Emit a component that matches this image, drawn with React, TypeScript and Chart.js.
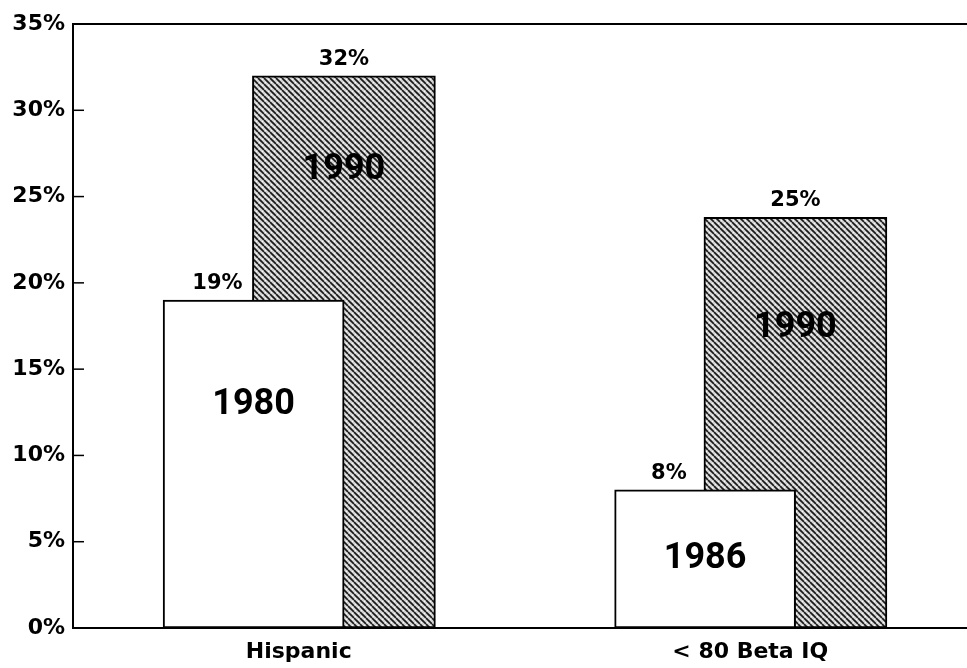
import React, { useEffect, useRef } from "react";
import { Chart, registerables } from "chart.js";

Chart.register(...registerables);

// ---- data ----
const categories = ["Hispanic", "< 80 Beta IQ"];
const earlyYears = ["1980", "1986"];
const earlyValues = [19, 8];
const earlyLabels = ["19%", "8%"];
const lateYears = ["1990", "1990"];
const lateValues = [32, 23.8];
const lateLabels = ["32%", "25%"];
const yMin = 0;
const yMax = 35;
const yStep = 5;

const YEARFONT = "Roboto, 'Liberation Sans', sans-serif";
const WIDE = "'DejaVu Sans', Verdana, sans-serif";

function makeHatch(): CanvasPattern | string {
  const s = 6;
  const c = document.createElement("canvas");
  c.width = s;
  c.height = s;
  const g = c.getContext("2d");
  if (!g) return "#777";
  g.fillStyle = "#d6d6d6";
  g.fillRect(0, 0, s, s);
  g.fillStyle = "#f8f8f8";
  g.fillRect(4, 1, 1, 1);
  g.fillRect(1, 4, 1, 1);
  g.strokeStyle = "#1a1a1a";
  g.lineWidth = 1.7;
  for (let k = -1; k <= 1; k++) {
    g.beginPath();
    g.moveTo(k * s, 0);
    g.lineTo(k * s + s, s);
    g.stroke();
  }
  const p = g.createPattern(c, "repeat");
  return p || "#777";
}

const framePlugin = {
  id: "frame",
  afterDraw(chart: any) {
    const { ctx, chartArea } = chart;
    const y = chart.scales.y;
    ctx.save();
    ctx.strokeStyle = "#000";
    ctx.lineWidth = 2;
    ctx.beginPath();
    ctx.moveTo(chartArea.left, chartArea.top);
    ctx.lineTo(chartArea.right, chartArea.top);
    ctx.stroke();
    ctx.lineWidth = 1.5;
    y.ticks.forEach((t: any) => {
      if (t.value === yMin || t.value === yMax) return;
      const py = y.getPixelForValue(t.value);
      ctx.beginPath();
      ctx.moveTo(chartArea.left, py);
      ctx.lineTo(chartArea.left + 11, py);
      ctx.stroke();
    });
    ctx.restore();
  },
};

const labelPlugin = {
  id: "barText",
  afterDatasetsDraw(chart: any, _args: any, opts: any) {
    const { ctx } = chart;
    const y = chart.scales.y;
    ctx.save();
    ctx.fillStyle = "#000";
    chart.data.datasets.forEach((ds: any, di: number) => {
      const meta = chart.getDatasetMeta(di);
      meta.data.forEach((bar: any, i: number) => {
        const props = bar.getProps(["x", "y", "base", "width"], true);
        const shift = di === 0 ? -props.width * 0.2 : 0;
        ctx.font = `bold 21px ${WIDE}`;
        ctx.textAlign = "center";
        ctx.textBaseline = "bottom";
        ctx.fillText(ds.valueLabels[i], props.x + shift, props.y - 6);
        const frac = opts.yearPos[di][i];
        const v = ds.data[i].y * frac;
        ctx.font = `bold 36px ${YEARFONT}`;
        ctx.textBaseline = "middle";
        ctx.fillText(ds.yearLabels[i], props.x, y.getPixelForValue(v));
      });
    });
    ctx.restore();
  },
};

export default function App() {
  const ref = useRef<HTMLCanvasElement | null>(null);

  useEffect(() => {
    if (!ref.current) return;
    const hatch = makeHatch();
    const chart = new Chart(ref.current, {
      type: "bar",
      data: {
        datasets: [
          {
            label: "early",
            data: earlyValues.map((v, i) => ({ x: i - 0.1, y: v })),
            backgroundColor: "#ffffff",
            borderColor: "#000",
            borderWidth: 2,
            borderSkipped: false,
            barThickness: 181,
            grouped: false,
            valueLabels: earlyLabels,
            yearLabels: earlyYears,
          } as any,
          {
            label: "late",
            data: lateValues.map((v, i) => ({ x: i + 0.1, y: v })),
            backgroundColor: hatch as any,
            borderColor: "#000",
            borderWidth: 2,
            borderSkipped: false,
            barThickness: 183,
            grouped: false,
            valueLabels: lateLabels,
            yearLabels: lateYears,
          } as any,
        ],
      },
      options: {
        responsive: false,
        animation: false,
        layout: { padding: { top: 24, left: 0, right: 0, bottom: 0 } },
        plugins: {
          legend: { display: false },
          tooltip: { enabled: false },
          barText: { yearPos: [[0.68, 0.5], [0.83, 0.73]] },
        } as any,
        scales: {
          x: {
            type: "linear",
            min: -0.5,
            max: 1.48,
            offset: false,
            grid: { display: false, drawTicks: false },
            border: { display: true, color: "#000", width: 2 },
            afterBuildTicks: (scale: any) => {
              scale.ticks = categories.map((_, i) => ({ value: i }));
            },
            afterFit: (scale: any) => {
              scale.height = 40;
            },
            ticks: {
              autoSkip: false,
              maxRotation: 0,
              padding: 11,
              color: "#000",
              font: { family: WIDE, size: 22, weight: "bold" },
              callback: (v: any) => categories[Math.round(Number(v))],
            },
          },
          y: {
            min: yMin,
            max: yMax,
            grid: { display: false, drawTicks: false },
            border: { display: true, color: "#000", width: 2 },
            afterFit: (scale: any) => {
              scale.width = 73;
            },
            ticks: {
              stepSize: yStep,
              padding: 8,
              color: "#000",
              font: { family: WIDE, size: 22, weight: "bold" },
              callback: (v: any) => `${v}%`,
            },
          },
        },
      } as any,
      plugins: [framePlugin, labelPlugin],
    });
    return () => chart.destroy();
  }, []);

  return (
    <div style={{ position: "absolute", left: 0, top: 0, width: 967, height: 668, background: "#fff" }}>
      <canvas ref={ref} width={967} height={668} />
    </div>
  );
}
